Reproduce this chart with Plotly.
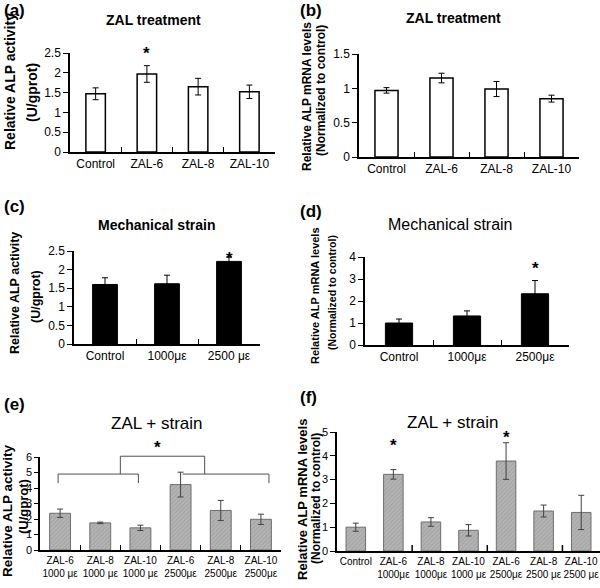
import plotly.graph_objects as go

# (a) ZAL treatment, ALP activity
cats_a = ["Control", "ZAL-6", "ZAL-8", "ZAL-10"]
alp_a = [1.47, 1.97, 1.65, 1.52]
err_a = [0.15, 0.21, 0.21, 0.17]

# (b) ZAL treatment, ALP mRNA
cats_b = ["Control", "ZAL-6", "ZAL-8", "ZAL-10"]
mrna_b = [0.97, 1.15, 0.99, 0.85]
err_b = [0.04, 0.07, 0.11, 0.05]

# (c) Mechanical strain, ALP activity
cats_c = ["Control", "1000με", "2500 με"]
alp_c = [1.60, 1.62, 2.22]
err_c = [0.18, 0.23, 0.12]

# (d) Mechanical strain, ALP mRNA
cats_d = ["Control", "1000με", "2500με"]
mrna_d = [1.00, 1.32, 2.33]
err_d = [0.18, 0.23, 0.60]

# (e) ZAL + strain, ALP activity
cats_e = ["ZAL-6<br>1000 με", "ZAL-8<br>1000 με", "ZAL-10<br>1000 με",
          "ZAL-6<br>2500με", "ZAL-8<br>2500με", "ZAL-10<br>2500με"]
alp_e = [2.37, 1.75, 1.43, 4.22, 2.55, 1.98]
err_e = [0.27, 0.05, 0.17, 0.80, 0.65, 0.33]

# (f) ZAL + strain, ALP mRNA
cats_f = ["Control", "ZAL-6<br>1000με", "ZAL-8<br>1000με", "ZAL-10<br>1000 με",
          "ZAL-6<br>2500με", "ZAL-8<br>2500 με", "ZAL-10<br>2500 με"]
mrna_f = [1.00, 3.22, 1.22, 0.87, 3.78, 1.68, 1.62]
err_f = [0.17, 0.20, 0.18, 0.24, 0.77, 0.25, 0.72]

W, H = 600, 588
FONT = "Liberation Sans, Arial, sans-serif"


def dx(x0, x1):
    return [x0 / W, x1 / W]


def dy(y0, y1):
    return [1 - y1 / H, 1 - y0 / H]


def px(x):
    return x / W


def py(y):
    return 1 - y / H


white = dict(color="white", line=dict(color="black", width=1.5))
black = dict(color="black", line=dict(color="black", width=1))
hatch = dict(color="#b4b4b4", line=dict(color="#6e6e6e", width=1),
             pattern=dict(shape="/", fgcolor="#8a8a8a", bgcolor="#b4b4b4", size=3, solidity=0.3))

panels = [
    # cats, vals, errs, marker, width, xdomain, ydomain, yrange, dtick, xfont, yfont
    (cats_a, alp_a, err_a, white, 0.38, dx(70, 275), dy(53, 152), [0, 2.5], 0.5, 12, 12),
    (cats_b, mrna_b, err_b, white, 0.42, dx(359, 579), dy(54, 157), [0, 1.5], 0.5, 12, 12),
    (cats_c, alp_c, err_c, black, 0.40, dx(74, 260), dy(251, 344), [0, 2.5], 0.5, 12, 12),
    (cats_d, mrna_d, err_d, black, 0.40, dx(365, 569), dy(257, 345), [0, 4], 1, 12, 12),
    (cats_e, alp_e, err_e, hatch, 0.52, dx(40, 281), dy(457, 550), [0, 6], 1, 10, 11),
    (cats_f, mrna_f, err_f, hatch, 0.52, dx(337, 600), dy(432, 551), [0, 5], 1, 10, 11),
]

fig = go.Figure()
layout = {}
for i, (cats, vals, errs, mk, bw, xd, yd, yr, dt, xf, yf) in enumerate(panels):
    n = i + 1
    sfx = "" if n == 1 else str(n)
    ecol = "#404040" if i >= 4 else "black"
    fig.add_trace(go.Bar(
        x=cats, y=vals, width=bw, marker=mk,
        error_y=dict(type="data", array=errs, color=ecol, thickness=1, width=3),
        xaxis="x" + sfx, yaxis="y" + sfx, showlegend=False,
    ))
    layout["xaxis" + sfx] = dict(
        domain=xd, anchor="y" + sfx, type="category", range=[-0.5, len(cats) - 0.5],
        showline=True, linecolor="black", linewidth=1.5, showgrid=False,
        ticks="" if i == 5 else "inside", tickson="boundaries", ticklen=5,
        tickcolor="black", tickangle=0, automargin=False,
        tickfont=dict(family=FONT, size=xf, color="black"),
    )
    layout["yaxis" + sfx] = dict(
        domain=yd, anchor="x" + sfx, range=yr, dtick=dt,
        showline=True, linecolor="black", linewidth=1.5, showgrid=False, zeroline=False,
        ticks="outside", ticklen=5 if i != 4 else 4, tickcolor="black", automargin=False,
        tickfont=dict(family=FONT, size=yf, color="black"),
    )

ann = []
# panel letters
for txt, x, y in [("(a)", 2, 10), ("(b)", 298, 10), ("(c)", 2, 206),
                  ("(d)", 298, 211), ("(e)", 2, 404), ("(f)", 298, 397)]:
    ann.append(dict(text="<b>%s</b>" % txt, x=px(x), y=py(y), xanchor="left", yanchor="middle",
                    font=dict(size=17, family=FONT, color="black")))
# panel titles
for txt, x, y, sz in [("<b>ZAL treatment</b>", 153, 20, 14),
                      ("<b>ZAL treatment</b>", 453, 18, 14),
                      ("<b>Mechanical strain</b>", 157, 225, 14),
                      ("Mechanical strain", 450, 224, 16),
                      ("ZAL + strain", 157, 423, 17),
                      ("ZAL + strain", 453, 422, 17)]:
    ann.append(dict(text=txt, x=px(x), y=py(y), xanchor="center", yanchor="middle",
                    font=dict(size=sz, family=FONT, color="black")))
# y-axis titles, one annotation per line
act1, act2 = "Relative ALP activity", "(U/gprot)"
mr1, mr2 = "Relative ALP mRNA levels", "(Normalized to control)"
for txt, x, y, sz in [(act1, 10, 82, 14), (act2, 32, 93, 14),
                      (mr1, 307, 97, 12), (mr2, 321, 91, 12),
                      (act1, 15, 293, 12.5), (act2, 36, 297, 12.5),
                      (mr1, 315, 296, 11), (mr2, 332, 293, 10.5),
                      (act1, 7, 511, 13.5), (act2, 23, 507, 13),
                      (mr1, 303, 500, 13), (mr2, 316, 498, 12)]:
    ann.append(dict(text="<b>%s</b>" % txt, x=px(x), y=py(y), xanchor="center", yanchor="middle",
                    textangle=-90, font=dict(size=sz, family=FONT, color="black")))
# significance stars (data positions inside the axes)
for ax, xv, yv in [("3", "2500 με", 2.3), ("4", "2500με", 3.5),
                   ("6", "ZAL-6<br>1000με", 4.45), ("6", "ZAL-6<br>2500με", 4.75)]:
    ann.append(dict(text="<b>*</b>", x=xv, y=yv, xref="x" + ax, yref="y" + ax,
                    yanchor="middle", font=dict(size=17, family=FONT, color="black")))
# stars above the axis tops
for x, y in [(146, 53), (157, 447)]:
    ann.append(dict(text="<b>*</b>", x=px(x), y=py(y), xanchor="center", yanchor="middle",
                    font=dict(size=17, family=FONT, color="black")))
for a in ann:
    a.setdefault("xref", "paper")
    a.setdefault("yref", "paper")
    a["showarrow"] = False

# brackets in (e): y given in data units, mapped onto the (e) y domain
e_dom, e_top = panels[4][6], panels[4][7][1]


def ey(v):
    return e_dom[0] + v / e_top * (e_dom[1] - e_dom[0])


shapes = []
bl = dict(color="#505050", width=1)
for x0, y0, x1, y1 in [(-0.05, 4.32, -0.05, 4.9), (-0.05, 4.9, 1.95, 4.9), (1.95, 4.9, 1.95, 4.32),
                       (3.05, 4.9, 5.2, 4.9), (5.2, 4.9, 5.2, 4.32),
                       (1.5, 4.9, 1.5, 6.05), (1.5, 6.05, 3.6, 6.05), (3.6, 6.05, 3.6, 4.9)]:
    shapes.append(dict(type="line", xref="x5", yref="paper", x0=x0, y0=ey(y0), x1=x1, y1=ey(y1), line=bl))
# sparse x ticks in (f)
for xb in [1.5, 3.5, 5.5]:
    shapes.append(dict(type="line", xref="x6", yref="y6", x0=xb, x1=xb, y0=0, y1=0.25,
                       line=dict(color="black", width=1.5)))

fig.update_layout(
    width=W, height=H, margin=dict(l=0, r=0, t=0, b=0),
    paper_bgcolor="white", plot_bgcolor="white",
    annotations=ann, shapes=shapes, bargap=0.5, **layout,
)

fig.write_html("out.html", config={"displayModeBar": False},
               post_script="document.body.style.margin='0';")
